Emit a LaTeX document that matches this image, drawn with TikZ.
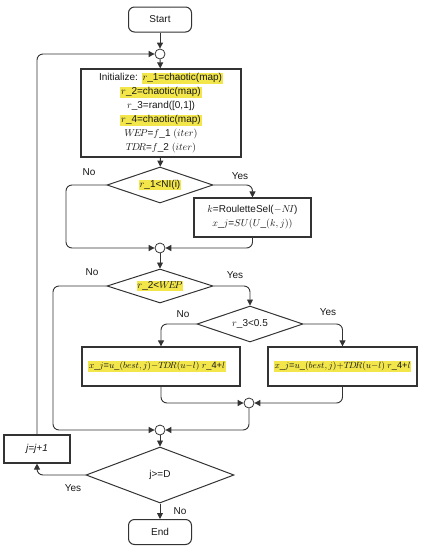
\documentclass[tikz,border=0pt]{standalone}
\usepackage{fontspec}
\setmainfont{Liberation Sans}
\usetikzlibrary{arrows.meta,shapes.geometric}
\definecolor{hl}{HTML}{F2E64B}
\definecolor{ln}{HTML}{333333}
\newcommand\hlx[1]{{\setlength\fboxsep{0.8pt}\colorbox{hl}{#1}}}
\begin{document}
\begin{tikzpicture}[x=1pt,y=-1pt,
  font=\fontsize{10}{14}\selectfont,
  every node/.style={text=black!90},
  term/.style={draw=ln, line width=1pt, rounded corners=6pt, minimum width=63pt, minimum height=25pt, inner sep=0pt, fill=white},
  procbox/.style={draw=ln, line width=1.3pt, inner sep=2pt, fill=white, align=center},
  decis/.style={draw=ln, line width=1pt, diamond, aspect=2.9, inner sep=0pt, fill=white},
  junc/.style={draw=ln, line width=0.8pt, circle, minimum size=10pt, inner sep=0pt, fill=white},
  conn/.style={draw=ln, line width=0.9pt, rounded corners=6pt, -{Triangle[length=6pt,width=6pt]}},
  lbl/.style={font=\fontsize{10}{12}\selectfont},
  small/.style={font=\fontsize{9.2}{11}\selectfont}]
\useasboundingbox (0,0) rectangle (422,550);

\node[term] (start) at (160,19.5) {Start};
\node[junc] (c1) at (160,54) {};
\node[procbox, minimum width=160pt, minimum height=88pt] (init) at (161,113)
 {Initialize: \hlx{$r$\_1=chaotic(map)}\\
  \hlx{$r$\_2=chaotic(map)}\\
  $r$\_3=rand([0,1])\\
  \hlx{$r$\_4=chaotic(map)}\\
  $W\!E\!P$=$f$\_1 $(iter)$\\
  $T\!D\!R$=$f$\_2 $(iter)$};
\node[decis, minimum width=106pt, minimum height=36pt] (d1) at (160,185) {\hlx{$r$\_1<NI(i)}};
\node[procbox, minimum width=117pt, minimum height=39pt, line width=1.1pt] (rs) at (252.5,217.5)
 {$k$=RouletteSel($-N\!I$)\\ $x$\_$j$=$SU(U$\_$(k,j))$};
\node[junc] (c2) at (160,248) {};
\node[decis, minimum width=106pt, minimum height=34pt] (d2) at (160,286) {\hlx{$r$\_2<$W\!E\!P$}};
\node[decis, minimum width=106pt, minimum height=36pt] (d3) at (250,324) {$r$\_3<0.5};
\node[procbox, minimum width=158pt, minimum height=39pt, small] (lb) at (161,366.5)
 {\hlx{$x$\_$j$=$u$\_$(best,j){-}T\!D\!R(u{-}l)$ $r$\_4+$l$}\hspace{8pt}};
\node[procbox, minimum width=149pt, minimum height=39pt, small] (rb) at (342.5,366.5)
 {\hlx{$x$\_$j$=$u$\_$(best,j){+}T\!D\!R(u{-}l)$ $r$\_4+$l$}};
\node[junc] (c3) at (249,403) {};
\node[junc] (c4) at (160,430) {};
\node[decis, minimum width=148pt, minimum height=56pt] (d4) at (160,475) {j>=D};
\node[procbox, minimum width=66pt, minimum height=28pt, line width=1.1pt] (jb) at (37,449) {\textit{j=j+1}};
\node[term] (end) at (160,532) {End};

% connectors
\draw[conn] (start) -- (c1);
\draw[conn] (c1) -- (init);
\draw[conn] (init) -- (d1);
\draw[conn] (d1.east) -| (rs.north);
\draw[conn] (d1.west) -- (66,185) |- (c2.west);
\draw[conn] (rs.south) |- (c2.east);
\draw[conn] (c2) -- (d2);
\draw[conn] (d2.east) -| (d3.north);
\draw[conn] (d2.west) -- (53,286) |- (c4.west);
\draw[conn] (d3.west) -| (lb.north);
\draw[conn] (d3.east) -| (rb.north);
\draw[conn] (lb.south) |- (c3.west);
\draw[conn] (rb.south) |- (c3.east);
\draw[conn] (c3.south) |- (c4.east);
\draw[conn] (c4) -- (d4);
\draw[conn] (d4.west) -| (jb.south);
\draw[conn] (jb.north) |- (c1.west);
\draw[conn] (d4) -- (end);

% labels
\node[lbl] at (89,172) {No};
\node[lbl] at (240,176) {Yes};
\node[lbl] at (92,272) {No};
\node[lbl] at (235,275) {Yes};
\node[lbl] at (183,314) {No};
\node[lbl] at (328,312) {Yes};
\node[lbl] at (73,488) {Yes};
\node[lbl] at (180,511) {No};
\end{tikzpicture}
\end{document}
